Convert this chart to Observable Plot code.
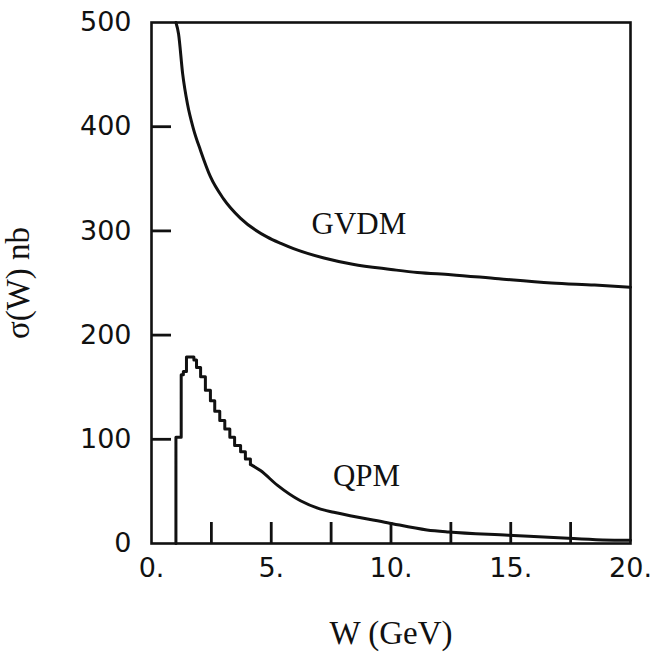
<!DOCTYPE html>
<html><head><meta charset="utf-8">
<script src="https://cdn.jsdelivr.net/npm/d3@7"></script>
<script src="https://cdn.jsdelivr.net/npm/@observablehq/plot@0.6"></script>
<style>html,body{margin:0;padding:0;background:#fff}</style>
</head><body><div id="chart"></div>
<script>
// GVDM curve (W in GeV, sigma in nb)
const gvdmW = [1.02, 1.13, 1.30, 1.50, 1.75, 2.05, 2.46, 3.00, 3.72, 4.84, 5.40, 5.93, 7.20, 8.40, 10.0, 11.1, 12.5, 14.5, 16.7, 18.5, 20.0];
const gvdmS = [500, 489, 451, 422, 398, 377, 352, 331, 312, 294, 288, 283, 274, 268, 263, 260, 258, 254, 250, 248, 246];

// QPM histogram part (step: bin left edge, value)
const qpmStepW = [1.02, 1.02, 1.24, 1.33, 1.46, 1.77, 1.88, 2.05, 2.25, 2.46, 2.64, 2.85, 3.06, 3.27, 3.47, 3.72, 3.92, 4.13];
const qpmStepS = [0, 102, 162, 165, 179, 176, 169, 160, 147, 137, 127, 118, 110, 102, 94, 88, 81, 76];
// QPM smooth tail
const qpmTailW = [4.13, 4.55, 5.25, 6.22, 7.06, 7.61, 9.85, 11.5, 12.4, 14.9, 17.4, 19.9, 20.0];
const qpmTailS = [76, 70, 56, 41, 33, 30, 20, 13, 11, 8, 5, 3, 3];

// axes
const xTickValues = [2.5, 5, 7.5, 10, 12.5, 15, 17.5];
const xLabelValues = [0, 5, 10, 15, 20];
const yTickValues = [100, 200, 300, 400];
const yLabelValues = [0, 100, 200, 300, 400, 500];

// annotations
const curveLabels = ["GVDM", "QPM"];
const curveLabelW = [8.66, 8.98];
const curveLabelS = [297, 55];

const xTitle = "W (GeV)";
const yTitle = "σ(W) nb";

const gvdm = gvdmW.map((w, i) => ({W: w, s: gvdmS[i]}));
const qpmStep = qpmStepW.map((w, i) => ({W: w, s: qpmStepS[i]}));
const qpmTail = qpmTailW.map((w, i) => ({W: w, s: qpmTailS[i]}));
const annots = curveLabels.map((t, i) => ({t, W: curveLabelW[i], s: curveLabelS[i]}));

const W = 654, H = 653;
const mL = 151, mR = 24, mT = 22, mB = 110;
const innerW = W - mL - mR, innerH = H - mT - mB;
const ink = "#111";
const serif = "Liberation Serif, Times New Roman, serif";
const sans = "DejaVu Sans, sans-serif";

const chart = Plot.plot({
  width: W, height: H,
  marginLeft: mL, marginRight: mR, marginTop: mT, marginBottom: mB,
  x: {domain: [0, 20]},
  y: {domain: [0, 500]},
  style: {fontFamily: sans, color: ink, background: "#fff", overflow: "visible"},
  marks: [
    Plot.axisX({ticks: xLabelValues, tickSize: 0, tickPadding: 14, tickFormat: d => d + ".", fontSize: 27, label: null}),
    Plot.axisY({ticks: yLabelValues, tickSize: 0, tickPadding: 20, fontSize: 27, label: null}),
    Plot.tickX(xTickValues, {x: d => d, insetTop: innerH - 21, stroke: ink, strokeWidth: 2.8}),
    Plot.tickY(yTickValues, {y: d => d, insetRight: innerW - 20, stroke: ink, strokeWidth: 2.8}),
    Plot.line(gvdm, {x: "W", y: "s", curve: "monotone-x", stroke: ink, strokeWidth: 3}),
    Plot.line(qpmStep, {x: "W", y: "s", curve: "step-after", stroke: ink, strokeWidth: 3}),
    Plot.line(qpmTail, {x: "W", y: "s", curve: "monotone-x", stroke: ink, strokeWidth: 3}),
    Plot.frame({stroke: ink, strokeWidth: 2.6}),
    Plot.text(annots, {x: "W", y: "s", text: "t", fontFamily: serif, fontSize: 31, lineAnchor: "bottom", textAnchor: "middle", fill: ink}),
    Plot.text([xTitle], {text: d => d, frameAnchor: "bottom", dy: 90, lineAnchor: "middle", textAnchor: "middle", fontFamily: serif, fontSize: 33, fill: ink}),
    Plot.text([yTitle], {text: d => d, frameAnchor: "left", dx: -133, rotate: -90, lineAnchor: "middle", textAnchor: "middle", fontFamily: serif, fontSize: 33, fill: ink})
  ]
});
document.getElementById("chart").appendChild(chart);
</script>
</body></html>
